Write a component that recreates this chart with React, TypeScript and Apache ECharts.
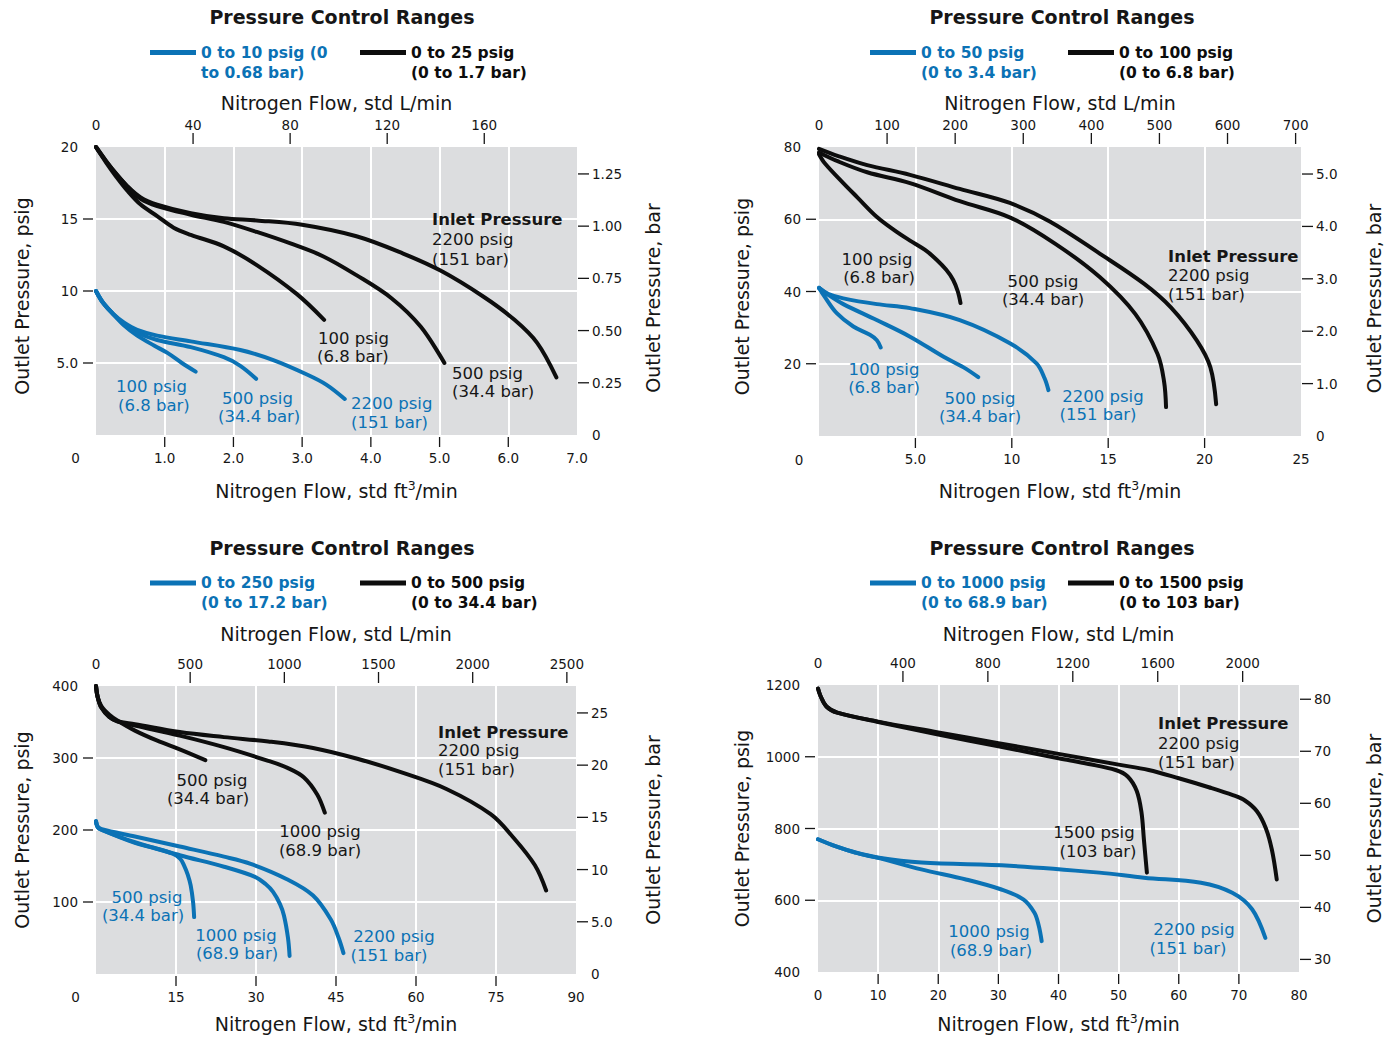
import React, { useEffect, useRef } from "react";
import * as echarts from "echarts";

// ---------------- DATA (x: std ft3/min, y: psig) ----------------
// Panel 1: 0-10 psig (blue) / 0-25 psig (black)
const p1Blue100 = [[0, 10], [0.1, 9.2], [0.25, 8.4], [0.41, 7.6], [0.6, 6.9], [0.85, 6.2], [1.04, 5.7], [1.25, 5.0], [1.45, 4.4]];
const p1Blue500 = [[0, 10], [0.1, 9.2], [0.25, 8.4], [0.41, 7.7], [0.6, 7.1], [0.89, 6.6], [1.38, 6.1], [1.86, 5.4], [2.1, 4.8], [2.33, 3.9]];
const p1Blue2200 = [[0, 10], [0.1, 9.2], [0.25, 8.4], [0.41, 7.8], [0.6, 7.3], [0.89, 6.9], [1.38, 6.5], [2.1, 5.9], [2.58, 5.2], [3.07, 4.2], [3.35, 3.5], [3.62, 2.5]];
const p1Black100 = [[0, 20], [0.15, 18.9], [0.3, 17.9], [0.45, 17.0], [0.65, 16.0], [0.89, 15.2], [1.13, 14.4], [1.38, 13.9], [1.86, 13.1], [2.34, 11.8], [2.92, 9.8], [3.32, 8.0]];
const p1Black500 = [[0, 20], [0.15, 19.0], [0.3, 18.1], [0.45, 17.3], [0.65, 16.4], [0.89, 15.9], [1.38, 15.3], [1.86, 14.8], [2.34, 14.1], [2.83, 13.3], [3.31, 12.4], [3.79, 11.1], [4.3, 9.5], [4.73, 7.5], [5.07, 5.0]];
const p1Black2200 = [[0, 20], [0.15, 19.0], [0.3, 18.1], [0.45, 17.3], [0.65, 16.5], [0.89, 16.0], [1.38, 15.4], [1.86, 15.05], [2.34, 14.9], [3.0, 14.6], [3.79, 13.8], [4.47, 12.6], [5.02, 11.4], [5.64, 9.6], [6.09, 8.0], [6.42, 6.4], [6.7, 4.0]];

// Panel 2: 0-50 psig (blue) / 0-100 psig (black)
const p2Blue100 = [[0, 41], [0.3, 38.5], [0.92, 34], [1.78, 30.3], [2.64, 28], [3.0, 26.5], [3.2, 24.5]];
const p2Blue500 = [[0, 41], [0.5, 39], [1.26, 36.5], [2.99, 32.1], [4.72, 27.5], [6.44, 22], [7.5, 19], [8.26, 16.3]];
const p2Blue2200 = [[0, 41], [0.5, 39.3], [1.26, 38.1], [3, 36.5], [4.72, 35.4], [7.3, 32.1], [9.9, 25.7], [11.28, 20.1], [11.7, 16], [11.9, 12.7]];
const p2Black100 = [[0, 78], [0.3, 75.5], [1.26, 70], [2.0, 66], [2.99, 60.7], [3.9, 57], [4.72, 54.1], [5.5, 51.5], [6.1, 48.8], [6.6, 46], [6.96, 43.2], [7.2, 40], [7.34, 36.8]];
const p2Black500 = [[0, 78.5], [1, 76], [2.5, 73], [4.72, 70.0], [7.3, 65], [9.95, 60.4], [12.26, 53.2], [14.56, 44], [16.4, 33.8], [17.56, 22.7], [17.9, 15], [18.0, 8]];
const p2Black2200 = [[0, 79.5], [1, 77.5], [2.5, 75], [4.72, 72.3], [7.3, 68.4], [9.9, 64.5], [11.97, 59.4], [14.56, 50.5], [16.87, 42.1], [18.25, 35.6], [19.6, 26.4], [20.3, 19], [20.6, 8.8]];

// Panel 3: 0-250 psig (blue) / 0-500 psig (black)
const p3Blue500 = [[0, 212], [0.3, 204], [1.1, 200], [7.3, 182], [11, 175], [14.4, 167], [15.8, 160], [16.5, 151], [17.2, 138], [17.75, 123], [18.2, 100], [18.4, 79]];
const p3Blue1000 = [[0, 212], [0.3, 204], [1.1, 200], [7.3, 183], [15.7, 165], [24, 149], [29.8, 135], [31.8, 125], [33.2, 114], [34.5, 97], [35.25, 81], [36, 50], [36.3, 25]];
const p3Blue2200 = [[0, 212], [0.3, 205], [1.1, 201], [7.3, 191], [15.7, 177], [24, 163], [29, 153], [35.7, 132], [40.7, 109], [44, 76], [45.5, 50], [46.4, 29]];
const p3Black500 = [[0, 400], [0.3, 385], [1, 372], [2.5, 360], [4, 352], [7.3, 338], [11.5, 324], [15.7, 312], [20.5, 297]];
const p3Black1000 = [[0, 400], [0.3, 385], [1, 370], [2.5, 357], [4, 351], [7.3, 345], [15.7, 331], [24, 315], [32.3, 296], [36, 286], [39, 273], [41.5, 249], [42.9, 224]];
const p3Black2200 = [[0, 400], [0.3, 385], [1, 370], [2.5, 357], [4, 351], [7.3, 347], [15.7, 336], [24, 329], [32.3, 323], [40.7, 314], [49, 299], [57.3, 280], [65.7, 257], [74, 222], [78.2, 190], [82.3, 151], [84.4, 116]];

// Panel 4: 0-1000 psig (blue) / 0-1500 psig (black)
const p4Blue1000 = [[0, 770], [3, 750], [6.2, 733], [9.85, 719], [17.2, 686], [24.6, 658], [30.5, 630], [34.2, 602], [36, 565], [36.7, 530], [37.2, 486]];
const p4Blue2200 = [[0, 770], [3, 750], [6.2, 733], [9.85, 719], [17.2, 705], [31.9, 696], [46.8, 677], [54.2, 663], [63.7, 649], [68.9, 621], [72.2, 575], [74.4, 495]];
const p4Black1500 = [[0, 1190], [0.4, 1170], [1.4, 1140], [3.2, 1123], [10, 1097], [20, 1062], [30, 1029], [40, 996], [45, 980], [49.5, 963], [51.5, 945], [53, 905], [53.8, 845], [54.2, 770], [54.7, 677]];
const p4Black2200 = [[0, 1190], [0.4, 1170], [1.4, 1140], [3.2, 1123], [10, 1098], [20, 1068], [30, 1038], [40, 1008], [50, 978], [55, 963], [60, 940], [65, 915], [69, 893], [71, 878], [73, 848], [74.5, 800], [75.5, 740], [76.3, 658]];

// ---------------- TICKS / LABELS ----------------
const p1XLabels = [1, 2, 3, 4, 5, 6, 7];
const p1XTicks = [1, 2, 3, 4, 5, 6];
const p1TopLabels = [0, 40, 80, 120, 160];
const p1TopTicks = [40, 80, 120, 160];
const p1LeftLabels = [5, 10, 15, 20];
const p1LeftTicks = [5, 10, 15];
const p1RightLabels = [0, 0.25, 0.5, 0.75, 1.0, 1.25];
const p1RightTicks = [0.25, 0.5, 0.75, 1.0, 1.25];

const p2XLabels = [5, 10, 15, 20, 25];
const p2XTicks = [5, 10, 15, 20];
const p2TopLabels = [0, 100, 200, 300, 400, 500, 600, 700];
const p2TopTicks = [100, 200, 300, 400, 500, 600, 700];
const p2LeftLabels = [20, 40, 60, 80];
const p2LeftTicks = [20, 40, 60];
const p2RightLabels = [0, 1, 2, 3, 4, 5];
const p2RightTicks = [1, 2, 3, 4, 5];

const p3XLabels = [15, 30, 45, 60, 75, 90];
const p3XTicks = [15, 30, 45, 60, 75];
const p3TopLabels = [0, 500, 1000, 1500, 2000, 2500];
const p3TopTicks = [500, 1000, 1500, 2000, 2500];
const p3LeftLabels = [100, 200, 300, 400];
const p3LeftTicks = [100, 200, 300];
const p3RightLabels = [0, 5, 10, 15, 20, 25];
const p3RightTicks = [5, 10, 15, 20, 25];

const p4XLabels = [0, 10, 20, 30, 40, 50, 60, 70, 80];
const p4XTicks = [10, 20, 30, 40, 50, 60, 70];
const p4TopLabels = [0, 400, 800, 1200, 1600, 2000];
const p4TopTicks = [400, 800, 1200, 1600, 2000];
const p4LeftLabels = [400, 600, 800, 1000, 1200];
const p4LeftTicks = [600, 800, 1000];
const p4RightLabels = [30, 40, 50, 60, 70, 80];
const p4RightTicks = [30, 40, 50, 60, 70, 80];

// ---------------- STYLE / LAYOUT ----------------
const FONT = "'DejaVu Sans', 'Liberation Sans', Arial, sans-serif";
const BLUE = "#0b72b5";
const BLACK = "#0d0d0d";
const TXT = "#161616";
const GRID_BG = "#dcdddf";
const PSI_PER_BAR = 14.5038;
const LPM_PER_CFM = 28.3168;
const TICK_FS = 13.5;
const ANN_FS = 16.5;
const NAME_FS = 19;

const fmt1 = (v: number) => v.toFixed(1);
const fmtInt = (v: number) => String(v);
const fmt5 = (v: number) => (v === 5 ? "5.0" : String(v));
const fmtBar2 = (v: number) => (v === 0 ? "0" : v.toFixed(2));
const fmtBar1 = (v: number) => (v === 0 ? "0" : v.toFixed(1));

type Ann = [string, number, number, "b" | "k", "left" | "center", boolean?];

const panels = [
  {
    grid: { left: 96, top: 147, width: 481, height: 288 },
    xMin: 0, xMax: 7, xInt: 1, yMin: 0, yMax: 20, yInt: 5,
    xLabels: p1XLabels, xTicks: p1XTicks, xFmt: fmt1,
    topLabels: p1TopLabels, topTicks: p1TopTicks,
    leftLabels: p1LeftLabels, leftTicks: p1LeftTicks, leftFmt: fmt5,
    rightLabels: p1RightLabels, rightTicks: p1RightTicks, rightFmt: fmtBar2,
    gaps: { bottom: 42, top: 32.5, left: 62.5, right: 64.5 },
    namePad: { left: 10, right: 14 },
    title: [342, 17],
    blueName: "0 to 10 psig (0 to 0.68 bar)", blueLines: ["0 to 10 psig (0", "to 0.68 bar)"],
    blackName: "0 to 25 psig (0 to 1.7 bar)", blackLines: ["0 to 25 psig", "(0 to 1.7 bar)"],
    legend: { blueLeft: 150, blackLeft: 360, cy: 52.5 },
    blue: [p1Blue100, p1Blue500, p1Blue2200],
    black: [p1Black100, p1Black500, p1Black2200],
    zero: [75.5, 457.5],
    ann: [
      ["Inlet Pressure", 432, 219.5, "k", "left", true],
      ["2200 psig", 432, 239.5, "k", "left"],
      ["(151 bar)", 432, 259, "k", "left"],
      ["100 psig", 318, 338, "k", "left"],
      ["(6.8 bar)", 317, 356, "k", "left"],
      ["500 psig", 452, 373, "k", "left"],
      ["(34.4 bar)", 452, 391, "k", "left"],
      ["100 psig", 116, 386, "b", "left"],
      ["(6.8 bar)", 118, 405, "b", "left"],
      ["500 psig", 222, 398, "b", "left"],
      ["(34.4 bar)", 218, 416, "b", "left"],
      ["2200 psig", 351, 403, "b", "left"],
      ["(151 bar)", 351, 422, "b", "left"],
    ] as Ann[],
  },
  {
    grid: { left: 819, top: 147, width: 482, height: 289 },
    xMin: 0, xMax: 25, xInt: 5, yMin: 0, yMax: 80, yInt: 20,
    xLabels: p2XLabels, xTicks: p2XTicks, xFmt: fmt5,
    topLabels: p2TopLabels, topTicks: p2TopTicks,
    leftLabels: p2LeftLabels, leftTicks: p2LeftTicks, leftFmt: fmtInt,
    rightLabels: p2RightLabels, rightTicks: p2RightTicks, rightFmt: fmtBar1,
    gaps: { bottom: 41, top: 32.5, left: 65.5, right: 61.5 },
    namePad: { left: 10, right: 14 },
    title: [1062, 17],
    blueName: "0 to 50 psig (0 to 3.4 bar)", blueLines: ["0 to 50 psig", "(0 to 3.4 bar)"],
    blackName: "0 to 100 psig (0 to 6.8 bar)", blackLines: ["0 to 100 psig", "(0 to 6.8 bar)"],
    legend: { blueLeft: 870, blackLeft: 1068, cy: 52.5 },
    blue: [p2Blue100, p2Blue500, p2Blue2200],
    black: [p2Black100, p2Black500, p2Black2200],
    zero: [799, 459.5],
    ann: [
      ["Inlet Pressure", 1168, 256, "k", "left", true],
      ["2200 psig", 1168, 275, "k", "left"],
      ["(151 bar)", 1168, 294, "k", "left"],
      ["100 psig", 877, 259, "k", "center"],
      ["(6.8 bar)", 879, 277, "k", "center"],
      ["500 psig", 1043, 281, "k", "center"],
      ["(34.4 bar)", 1043, 299, "k", "center"],
      ["100 psig", 884, 369, "b", "center"],
      ["(6.8 bar)", 884, 387, "b", "center"],
      ["500 psig", 980, 398, "b", "center"],
      ["(34.4 bar)", 980, 416, "b", "center"],
      ["2200 psig", 1103, 396, "b", "center"],
      ["(151 bar)", 1098, 414, "b", "center"],
    ] as Ann[],
  },
  {
    grid: { left: 96, top: 686, width: 480, height: 288 },
    xMin: 0, xMax: 90, xInt: 15, yMin: 0, yMax: 400, yInt: 100,
    xLabels: p3XLabels, xTicks: p3XTicks, xFmt: fmtInt,
    topLabels: p3TopLabels, topTicks: p3TopTicks,
    leftLabels: p3LeftLabels, leftTicks: p3LeftTicks, leftFmt: fmtInt,
    rightLabels: p3RightLabels, rightTicks: p3RightTicks, rightFmt: fmt5,
    gaps: { bottom: 36, top: 40.5, left: 62.5, right: 65.5 },
    namePad: { left: 0, right: 0 },
    title: [342, 548],
    blueName: "0 to 250 psig (0 to 17.2 bar)", blueLines: ["0 to 250 psig", "(0 to 17.2 bar)"],
    blackName: "0 to 500 psig (0 to 34.4 bar)", blackLines: ["0 to 500 psig", "(0 to 34.4 bar)"],
    legend: { blueLeft: 150, blackLeft: 360, cy: 583 },
    blue: [p3Blue500, p3Blue1000, p3Blue2200],
    black: [p3Black500, p3Black1000, p3Black2200],
    zero: [75.5, 997],
    ann: [
      ["Inlet Pressure", 438, 732, "k", "left", true],
      ["2200 psig", 438, 750, "k", "left"],
      ["(151 bar)", 438, 769, "k", "left"],
      ["500 psig", 212, 780, "k", "center"],
      ["(34.4 bar)", 208, 798, "k", "center"],
      ["1000 psig", 320, 831, "k", "center"],
      ["(68.9 bar)", 320, 850, "k", "center"],
      ["500 psig", 147, 897, "b", "center"],
      ["(34.4 bar)", 143, 915, "b", "center"],
      ["1000 psig", 236, 935, "b", "center"],
      ["(68.9 bar)", 237, 953, "b", "center"],
      ["2200 psig", 394, 936, "b", "center"],
      ["(151 bar)", 389, 955, "b", "center"],
    ] as Ann[],
  },
  {
    grid: { left: 818, top: 685, width: 481, height: 287 },
    xMin: 0, xMax: 80, xInt: 10, yMin: 400, yMax: 1200, yInt: 200,
    xLabels: p4XLabels, xTicks: p4XTicks, xFmt: fmtInt,
    topLabels: p4TopLabels, topTicks: p4TopTicks,
    leftLabels: p4LeftLabels, leftTicks: p4LeftTicks, leftFmt: fmtInt,
    rightLabels: p4RightLabels, rightTicks: p4RightTicks, rightFmt: fmtInt,
    gaps: { bottom: 38, top: 39.5, left: 64.5, right: 63.5 },
    namePad: { left: 0, right: 0 },
    title: [1062, 548],
    blueName: "0 to 1000 psig (0 to 68.9 bar)", blueLines: ["0 to 1000 psig", "(0 to 68.9 bar)"],
    blackName: "0 to 1500 psig (0 to 103 bar)", blackLines: ["0 to 1500 psig", "(0 to 103 bar)"],
    legend: { blueLeft: 870, blackLeft: 1068, cy: 583 },
    blue: [p4Blue1000, p4Blue2200],
    black: [p4Black1500, p4Black2200],
    zero: null as null | number[],
    ann: [
      ["Inlet Pressure", 1158, 723, "k", "left", true],
      ["2200 psig", 1158, 743, "k", "left"],
      ["(151 bar)", 1158, 762, "k", "left"],
      ["1500 psig", 1094, 832, "k", "center"],
      ["(103 bar)", 1098, 851, "k", "center"],
      ["1000 psig", 989, 931, "b", "center"],
      ["(68.9 bar)", 991, 950, "b", "center"],
      ["2200 psig", 1194, 929, "b", "center"],
      ["(151 bar)", 1188, 948, "b", "center"],
    ] as Ann[],
  },
];

const labelBase = { fontSize: TICK_FS, color: TXT, fontFamily: FONT };
const nameBase = { fontSize: NAME_FS, color: TXT, fontFamily: FONT };

function textEl(text: string, x: number, y: number, color: string, align: string, size: number, bold: boolean) {
  return {
    type: "text",
    x,
    y,
    z: 100,
    silent: true,
    style: {
      text,
      fill: color,
      font: `${bold ? "bold " : ""}${size}px ${FONT}`,
      align,
      verticalAlign: "middle",
      textAlign: align,
      textVerticalAlign: "middle",
    },
  };
}

function tickEl(x1: number, y1: number, x2: number, y2: number) {
  return {
    type: "line",
    z: 100,
    silent: true,
    shape: { x1, y1, x2, y2 },
    style: { stroke: TXT, lineWidth: 1.3 },
  };
}

function buildOption() {
  const grid: any[] = [];
  const xAxis: any[] = [];
  const yAxis: any[] = [];
  const series: any[] = [];
  const legend: any[] = [];
  const graphic: any[] = [];

  panels.forEach((p, i) => {
    grid.push({ ...p.grid, show: true, backgroundColor: GRID_BG, borderWidth: 0, containLabel: false });

    // bottom x (ft3/min)
    xAxis.push({
      type: "value", gridIndex: i, position: "bottom", min: p.xMin, max: p.xMax, interval: p.xInt, offset: 2,
      axisLine: { show: false },
      axisTick: { show: false },
      axisLabel: { customValues: p.xLabels, formatter: p.xFmt, margin: 14, ...labelBase },
      splitLine: { show: true, showMinLine: false, showMaxLine: false, lineStyle: { color: "#ffffff", width: 2 } },
      name: "Nitrogen Flow, std ft{sup|3}/min", nameLocation: "middle", nameGap: p.gaps.bottom,
      nameTextStyle: { ...nameBase, lineHeight: 24, rich: { sup: { fontSize: 12.5, fontFamily: FONT, color: TXT, verticalAlign: "top" } } },
    });
    // top x (L/min)
    xAxis.push({
      type: "value", gridIndex: i, position: "top", min: p.xMin * LPM_PER_CFM, max: p.xMax * LPM_PER_CFM, offset: 2,
      axisLine: { show: false },
      axisTick: { show: false },
      axisLabel: { customValues: p.topLabels, formatter: fmtInt, margin: 13, ...labelBase },
      splitLine: { show: false },
      name: "Nitrogen Flow, std L/min", nameLocation: "middle", nameGap: p.gaps.top, nameTextStyle: nameBase,
    });
    // left y (psig)
    yAxis.push({
      type: "value", gridIndex: i, position: "left", min: p.yMin, max: p.yMax, interval: p.yInt, offset: 2,
      axisLine: { show: false },
      axisTick: { show: false },
      axisLabel: { customValues: p.leftLabels, formatter: p.leftFmt, margin: 16, ...labelBase },
      splitLine: { show: true, showMinLine: false, showMaxLine: false, lineStyle: { color: "#ffffff", width: 2 } },
      name: "Outlet Pressure, psig", nameLocation: "middle", nameGap: p.gaps.left,
      nameTextStyle: { ...nameBase, padding: [0, p.namePad.left, 0, 0] },
    });
    // right y (bar)
    yAxis.push({
      type: "value", gridIndex: i, position: "right", min: p.yMin / PSI_PER_BAR, max: p.yMax / PSI_PER_BAR, offset: 2,
      axisLine: { show: false },
      axisTick: { show: false },
      axisLabel: { customValues: p.rightLabels, formatter: p.rightFmt, margin: 13, ...labelBase },
      splitLine: { show: false },
      name: "Outlet Pressure, bar", nameLocation: "middle", nameGap: p.gaps.right,
      nameTextStyle: { ...nameBase, padding: [0, p.namePad.right, 0, 0] },
    });

    const mk = (data: number[][], name: string, color: string) => ({
      type: "line", name, xAxisIndex: 2 * i, yAxisIndex: 2 * i, data,
      smooth: 0.35, showSymbol: false, symbol: "none", clip: false, silent: true,
      lineStyle: { color, width: 4, cap: "round" }, itemStyle: { color },
    });
    p.blue.forEach((d) => series.push(mk(d, p.blueName, BLUE)));
    p.black.forEach((d) => series.push(mk(d, p.blackName, BLACK)));

    const legendBase = {
      orient: "horizontal", padding: 0, icon: "rect", itemWidth: 46, itemHeight: 5, selectedMode: false,
      top: p.legend.cy - 30,
    };
    const legendText = (color: string) => ({
      color, fontWeight: "bold", fontSize: 15.5, fontFamily: FONT, lineHeight: 20,
      rich: { s: { lineHeight: 20, fontSize: 10 } },
    });
    legend.push({
      ...legendBase, left: p.legend.blueLeft, data: [p.blueName],
      formatter: () => `{s| }\n${p.blueLines[0]}\n${p.blueLines[1]}`,
      textStyle: legendText(BLUE),
    });
    legend.push({
      ...legendBase, left: p.legend.blackLeft, data: [p.blackName],
      formatter: () => `{s| }\n${p.blackLines[0]}\n${p.blackLines[1]}`,
      textStyle: legendText(BLACK),
    });

    graphic.push(textEl("Pressure Control Ranges", p.title[0], p.title[1], TXT, "center", 19, true));
    if (p.zero) graphic.push(textEl("0", p.zero[0], p.zero[1], TXT, "center", TICK_FS, false));
    p.ann.forEach((a) => {
      graphic.push(textEl(a[0], a[1], a[2], a[3] === "b" ? BLUE : TXT, a[4], ANN_FS, !!a[5]));
    });
  });

  return {
    animation: false,
    backgroundColor: "#ffffff",
    textStyle: { fontFamily: FONT },
    grid, xAxis, yAxis, series, legend, graphic,
  };
}

export default function App() {
  const ref = useRef<HTMLDivElement>(null);
  useEffect(() => {
    if (!ref.current) return;
    const chart = echarts.init(ref.current, undefined, { renderer: "svg" });
    const option: any = buildOption();
    chart.setOption(option);

    // axis tick marks, positioned through each axis' own scale
    const ticks: any[] = [];
    panels.forEach((p, i) => {
      const g = p.grid;
      const bottom = g.top + g.height;
      const right = g.left + g.width;
      p.xTicks.forEach((v) => {
        const x = chart.convertToPixel({ xAxisIndex: 2 * i } as any, v) as unknown as number;
        ticks.push(tickEl(x, bottom + 2, x, bottom + 12));
      });
      p.topTicks.forEach((v) => {
        const x = chart.convertToPixel({ xAxisIndex: 2 * i + 1 } as any, v) as unknown as number;
        ticks.push(tickEl(x, g.top - 14, x, g.top - 3));
      });
      p.leftTicks.forEach((v) => {
        const y = chart.convertToPixel({ yAxisIndex: 2 * i } as any, v) as unknown as number;
        ticks.push(tickEl(g.left - 13, y, g.left - 3, y));
      });
      p.rightTicks.forEach((v) => {
        const y = chart.convertToPixel({ yAxisIndex: 2 * i + 1 } as any, v) as unknown as number;
        ticks.push(tickEl(right + 1, y, right + 12, y));
      });
    });
    chart.setOption({ graphic: [...option.graphic, ...ticks] } as any, { replaceMerge: ["graphic"] } as any);
    return () => chart.dispose();
  }, []);
  return (
    <div
      ref={ref}
      style={{ position: "fixed", left: 0, top: 0, width: 1396, height: 1046, background: "#fff" }}
    />
  );
}
